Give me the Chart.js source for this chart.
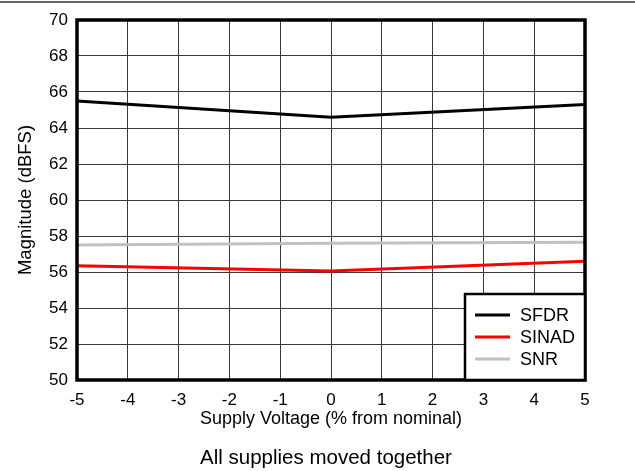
<!DOCTYPE html>
<html>
<head>
<meta charset="utf-8">
<script src="https://cdn.jsdelivr.net/npm/chart.js@4/dist/chart.umd.min.js"></script>
<style>
  html, body { margin: 0; padding: 0; background: #fff; }
  #wrap { width: 635px; height: 471px; }
</style>
</head>
<body>
<div id="wrap"><canvas id="chart"></canvas></div>
<script>
// values
const supplyPct = [-5, 0, 5];
const sfdr  = [65.5, 64.6, 65.3];
const sinad = [56.35, 56.05, 56.6];
const snr   = [57.5, 57.6, 57.65];
const seriesNames = ['SFDR', 'SINAD', 'SNR'];
const noteText = 'All supplies moved together';

const FONT = 'Arial, "Liberation Sans", sans-serif';

// frame, top rule, boxed legend and the note under the axis
const decor = {
  id: 'decor',
  afterDraw(chart) {
    const { ctx, chartArea: a } = chart;
    ctx.save();
    // thin rule along the top of the page
    ctx.strokeStyle = '#333';
    ctx.lineWidth = 1.5;
    ctx.beginPath();
    ctx.moveTo(0, 2);
    ctx.lineTo(chart.width, 2);
    ctx.stroke();

    // heavy plot frame
    ctx.strokeStyle = '#000';
    ctx.lineWidth = 3.5;
    ctx.strokeRect(a.left, a.top, a.right - a.left, a.bottom - a.top);

    // legend box in the lower right corner
    const bx = a.right - 120, by = a.bottom - 86;
    ctx.fillStyle = '#fff';
    ctx.fillRect(bx, by, a.right - bx, a.bottom - by);
    ctx.lineWidth = 2.5;
    ctx.strokeRect(bx, by, a.right - bx, a.bottom - by);

    ctx.font = '18px ' + FONT;
    ctx.textBaseline = 'middle';
    chart.data.datasets.forEach((ds, i) => {
      const y = by + 21 + i * 22;
      ctx.strokeStyle = ds.borderColor;
      ctx.lineWidth = 3;
      ctx.beginPath();
      ctx.moveTo(bx + 10, y);
      ctx.lineTo(bx + 45, y);
      ctx.stroke();
      ctx.fillStyle = '#000';
      ctx.fillText(ds.label, bx + 55, y + 1);
    });

    // note under the x axis
    ctx.font = '20.5px ' + FONT;
    ctx.textAlign = 'center';
    ctx.fillText(noteText, 326, 458);
    ctx.restore();
  }
};

new Chart(document.getElementById('chart'), {
  type: 'line',
  data: {
    datasets: [
      { label: seriesNames[0], data: sfdr,  borderColor: '#000000' },
      { label: seriesNames[1], data: sinad, borderColor: '#ff0000' },
      { label: seriesNames[2], data: snr,   borderColor: '#c0c0c0' }
    ].map(ds => ({
      ...ds,
      data: ds.data.map((v, j) => ({ x: supplyPct[j], y: v })),
      borderWidth: 3,
      pointRadius: 0,
      fill: false
    }))
  },
  options: {
    responsive: true,
    maintainAspectRatio: false,
    animation: false,
    layout: { padding: { left: 0, right: 50, top: 20, bottom: 41 } },
    plugins: {
      legend: { display: false },
      tooltip: { enabled: false }
    },
    scales: {
      x: {
        type: 'linear',
        min: -5, max: 5,
        afterFit(scale) { scale.height = 50; },
        border: { display: false },
        grid: { color: '#3a3a3a', lineWidth: 1, drawTicks: false },
        ticks: { stepSize: 1, padding: 10, color: '#000', font: { family: FONT, size: 17 } },
        title: {
          display: true,
          text: 'Supply Voltage (% from nominal)',
          color: '#000',
          font: { family: FONT, size: 18 },
          padding: { top: 0, bottom: 0 }
        }
      },
      y: {
        min: 50, max: 70,
        afterFit(scale) { scale.width = 77; },
        border: { display: false },
        grid: { color: '#3a3a3a', lineWidth: 1, drawTicks: false },
        ticks: { stepSize: 2, padding: 9, color: '#000', font: { family: FONT, size: 17 } },
        title: {
          display: true,
          text: 'Magnitude (dBFS)',
          color: '#000',
          font: { family: FONT, size: 18.5 },
          padding: { top: 15, bottom: 0 }
        }
      }
    }
  },
  plugins: [decor]
});
</script>
</body>
</html>
